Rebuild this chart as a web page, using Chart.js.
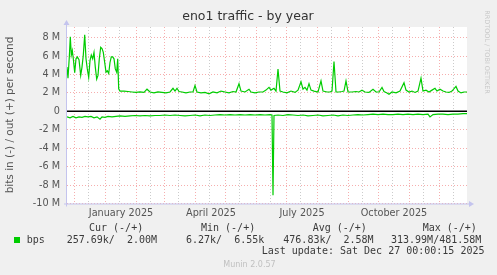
<!DOCTYPE html>
<html>
<head>
<meta charset="utf-8">
<script src="https://cdn.jsdelivr.net/npm/chart.js@4/dist/chart.umd.min.js"></script>
<style>
  html, body { margin: 0; padding: 0; background: #f0f0f0; overflow: hidden; }
  #c { display: block; }
</style>
</head>
<body>
<canvas id="c" width="497" height="275"></canvas>
<script>
// days counted from the left edge of the graph (Nov 24 2024), values in M bit/s
const outDays = [0, 1, 2.3, 3.3, 4.3, 5.3, 6.3, 7.7, 9, 10.3, 12, 13.7, 15, 16.3, 17.7, 19, 20.3, 21.7, 23, 24.3,
  25.7, 27, 28.3, 29.7, 31, 32.3, 33.7, 35, 36.3, 37.7, 39, 40.3, 41.7, 43, 44.3, 45.7, 47, 48.3, 49.7, 50.7,
  51.7, 53, 57, 61, 65, 69, 73, 77, 80, 83, 87, 91, 95, 99, 103, 106, 108, 110, 112, 115,
  119, 123, 126, 128, 130, 134, 138, 142, 146, 150, 154, 158, 162, 166, 169, 172, 174, 178, 182, 184,
  188, 192, 196, 199, 202, 204, 207, 209, 211, 213, 216, 220, 224, 228, 231, 234, 236, 238, 240, 242,
  244, 247, 251, 254, 256, 260, 263, 265, 267, 269, 272, 275, 277, 279, 281, 285, 289, 292, 295, 298,
  302, 306, 309, 312, 315, 317, 320, 322, 325, 329, 333, 337, 339, 342, 345, 348, 351, 354, 356, 359,
  362, 365, 368, 370, 373, 376, 379, 382, 385, 389, 391, 394, 397, 400];
const outVals = [4.8, 3.6, 5.9, 8.1, 6.1, 6.6, 5.7, 4.2, 5.7, 5.9, 5.6, 3.9, 4.8, 6.1, 8.3, 5.7, 4.6, 3.7, 5.5, 6.1,
  5.7, 6.4, 4.8, 3.5, 3.9, 5.7, 6.95, 6.8, 6.4, 5.3, 4.25, 4.4, 4.1, 5.3, 5.9, 5.9, 5.7, 4.6, 4.25, 5.7,
  2.45, 2.2, 2.2, 2.15, 2.1, 2.05, 2.1, 2.05, 2.4, 2.1, 2.0, 2.1, 2.05, 2.0, 2.1, 2.5, 2.2, 2.5, 2.15, 2.1,
  2.0, 2.1, 2.1, 2.8, 2.1, 2.0, 2.05, 1.9, 2.1, 2.0, 2.2, 2.1, 2.0, 2.15, 2.1, 3.0, 2.2, 2.1, 2.4, 2.1,
  2.0, 2.1, 2.1, 2.3, 2.6, 2.3, 2.5, 2.2, 4.6, 2.2, 2.1, 2.0, 2.2, 2.05, 2.3, 3.2, 2.4, 2.6, 2.3, 3.0,
  2.3, 2.2, 2.1, 3.3, 2.2, 2.1, 2.1, 2.2, 5.4, 2.1, 2.1, 2.15, 2.2, 3.3, 2.1, 2.1, 2.15, 2.1, 2.3, 2.1,
  2.05, 2.4, 2.1, 2.1, 2.6, 2.15, 2.0, 1.85, 2.1, 2.0, 2.2, 3.1, 2.3, 2.1, 2.2, 2.05, 2.2, 3.6, 2.2, 2.3,
  2.1, 2.3, 2.5, 2.2, 2.4, 2.2, 2.1, 2.05, 2.2, 2.7, 2.2, 2.0, 2.1, 2.1];

const inDays = [0, 3, 6, 9, 12, 15, 18, 21, 24, 27, 30, 33, 35, 38, 41, 45, 49, 53, 58, 63,
  68, 73, 78, 83, 88, 93, 98, 103, 108, 113, 118, 123, 128, 133, 138, 143, 148, 153, 158, 163,
  168, 173, 178, 183, 188, 193, 198, 203, 205, 206, 207, 211, 216, 221, 226, 231, 236, 241, 246, 251,
  256, 261, 266, 271, 276, 281, 286, 291, 296, 301, 306, 311, 316, 321, 326, 331, 336, 341, 346, 351,
  356, 361, 363, 366, 371, 376, 381, 386, 391, 396, 400];
const inVals = [-0.6, -0.7, -0.55, -0.7, -0.6, -0.65, -0.55, -0.6, -0.55, -0.7, -0.6, -0.85, -0.6, -0.65, -0.55, -0.6, -0.55, -0.5, -0.55, -0.5,
  -0.45, -0.5, -0.45, -0.5, -0.45, -0.45, -0.4, -0.45, -0.4, -0.45, -0.5, -0.45, -0.4, -0.5, -0.4, -0.45, -0.4, -0.35, -0.4, -0.35,
  -0.4, -0.35, -0.4, -0.35, -0.4, -0.35, -0.4, -0.35, -0.4, -9.1, -0.45, -0.4, -0.45, -0.35, -0.4, -0.45, -0.4, -0.5, -0.45, -0.4,
  -0.5, -0.45, -0.4, -0.5, -0.4, -0.45, -0.4, -0.35, -0.4, -0.35, -0.3, -0.35, -0.3, -0.35, -0.35, -0.3, -0.35, -0.3, -0.35, -0.3,
  -0.35, -0.3, -0.6, -0.35, -0.3, -0.3, -0.35, -0.3, -0.3, -0.25, -0.25];

const yTicks = [-10, -9, -8, -7, -6, -5, -4, -3, -2, -1, 0, 1, 2, 3, 4, 5, 6, 7, 8, 9];
const labelMonths = [1, 4, 7, 10];
const labelTexts = ["January 2025", "April 2025", "July 2025", "October 2025"];

const START = Date.UTC(2024, 10, 24);
function dayOf(y, m, d) { return (Date.UTC(y, m - 1, d) - START) / 864e5; }

// month starts (major) and mid months (minor)
const majorDays = [], minorDays = [], dayLabel = {};
for (let i = 0; i < 13; i++) {
    const m = ((11 + i) % 12) + 1;
    const y = 2024 + Math.floor((11 + i) / 12);
    const d = dayOf(y, m, 1);
    majorDays.push(d);
    const li = labelMonths.indexOf(m);
    if (li >= 0 && y === 2025) dayLabel[d] = labelTexts[li];
    const mid = dayOf(y, m, 15);
    if (mid <= 400) minorDays.push(mid);
}
const gridDays = majorDays.concat(minorDays).sort((a, b) => a - b);

const RED = 'rgba(240,120,120,0.6)';
const GREY = 'rgba(175,175,175,0.65)';
const GREEN = '#00cc00';

const rrdLook = {
    id: 'rrdLook',
    beforeDraw(chart) {
        const { ctx, chartArea: a } = chart;
        ctx.save();
        ctx.fillStyle = '#f0f0f0';
        ctx.fillRect(0, 0, chart.width, chart.height);
        ctx.fillStyle = '#ffffff';
        ctx.fillRect(a.left, a.top, a.right - a.left, a.bottom - a.top);
        ctx.restore();
    },
    beforeDatasetsDraw(chart) {
        const { ctx, chartArea: a } = chart;
        const y0 = chart.scales.y.getPixelForValue(0);
        ctx.save();
        ctx.strokeStyle = '#000';
        ctx.lineWidth = 1.5;
        ctx.beginPath();
        ctx.moveTo(a.left, y0);
        ctx.lineTo(a.right, y0);
        ctx.stroke();
        ctx.restore();
    },
    afterDraw(chart) {
        const { ctx, chartArea: a } = chart;
        ctx.save();
        // axes with arrows
        ctx.strokeStyle = '#c4c4ee';
        ctx.fillStyle = '#c4c4ee';
        ctx.lineWidth = 1;
        ctx.beginPath();
        ctx.moveTo(a.left - 0.5, a.bottom + 3);
        ctx.lineTo(a.left - 0.5, a.top - 3);
        ctx.moveTo(a.left - 3, a.bottom + 0.5);
        ctx.lineTo(a.right + 3, a.bottom + 0.5);
        ctx.stroke();
        ctx.beginPath();
        ctx.moveTo(a.left - 3.5, a.top - 2);
        ctx.lineTo(a.left + 2.5, a.top - 2);
        ctx.lineTo(a.left - 0.5, a.top - 7);
        ctx.closePath();
        ctx.fill();
        ctx.beginPath();
        ctx.moveTo(a.right + 2, a.bottom - 2.5);
        ctx.lineTo(a.right + 2, a.bottom + 3.5);
        ctx.lineTo(a.right + 7, a.bottom + 0.5);
        ctx.closePath();
        ctx.fill();

        // title
        ctx.fillStyle = '#333';
        ctx.font = '12.5px "DejaVu Sans"';
        ctx.textAlign = 'center';
        ctx.textBaseline = 'middle';
        ctx.fillText('eno1 traffic - by year', 248, 17);

        // vertical unit label
        ctx.save();
        ctx.translate(10, 115);
        ctx.rotate(-Math.PI / 2);
        ctx.fillStyle = '#555';
        ctx.font = '10.5px "DejaVu Sans"';
        ctx.fillText('bits in (-) / out (+) per second', 0, 0);
        ctx.restore();

        // watermark
        ctx.save();
        ctx.translate(487, 52);
        ctx.rotate(Math.PI / 2);
        ctx.fillStyle = '#c8c8c8';
        ctx.font = '6.5px "DejaVu Sans"';
        ctx.fillText('RRDTOOL / TOBI OETIKER', 0, 0);
        ctx.restore();

        // legend block
        ctx.textAlign = 'left';
        ctx.fillStyle = '#3a3a3a';
        ctx.font = '10px "DejaVu Sans Mono"';
        ctx.fillText('Cur (-/+)', 89, 228);
        ctx.fillText('Min (-/+)', 201, 228);
        ctx.fillText('Avg (-/+)', 312.7, 228);
        ctx.fillText('Max (-/+)', 422.7, 228);
        ctx.fillText('bps', 26.7, 240);
        ctx.fillText('257.69k/  2.00M', 66.7, 240);
        ctx.fillText('6.27k/  6.55k', 186, 240);
        ctx.fillText('476.83k/  2.58M', 283.3, 240);
        ctx.fillText('313.99M/481.58M', 391, 240);
        ctx.fillText('Last update: Sat Dec 27 00:00:15 2025', 261.7, 251.5);
        ctx.fillStyle = GREEN;
        ctx.fillRect(14, 237, 6, 6);

        ctx.fillStyle = '#c0c0c0';
        ctx.textAlign = 'center';
        ctx.font = '8px "DejaVu Sans"';
        ctx.fillText('Munin 2.0.57', 249.5, 265);
        ctx.restore();
    }
};

const tickFont = { family: 'DejaVu Sans', size: 9.7 };

new Chart(document.getElementById('c'), {
    type: 'line',
    data: {
        datasets: [{
            label: 'out',
            data: outDays.map((d, i) => ({ x: d, y: outVals[i] })),
            borderColor: GREEN,
            borderWidth: 1.2,
            pointRadius: 0,
            tension: 0,
            fill: false
        }, {
            label: 'in',
            data: inDays.map((d, i) => ({ x: d, y: inVals[i] })),
            borderColor: GREEN,
            borderWidth: 1.2,
            pointRadius: 0,
            tension: 0,
            fill: false
        }]
    },
    options: {
        responsive: false,
        animation: false,
        devicePixelRatio: 1,
        layout: { padding: { top: 27, right: 30, left: 0, bottom: 0 } },
        plugins: { legend: { display: false }, tooltip: { enabled: false }, title: { display: false } },
        scales: {
            x: {
                type: 'linear',
                min: 0,
                max: 400,
                afterBuildTicks: s => { s.ticks = gridDays.map(v => ({ value: v })); },
                afterFit: s => { s.height = 71.5; },
                ticks: {
                    autoSkip: false,
                    maxRotation: 0,
                    minRotation: 0,
                    labelOffset: 16,
                    padding: 4,
                    color: '#555',
                    font: tickFont,
                    callback: v => dayLabel[v] || ''
                },
                grid: {
                    drawTicks: false,
                    lineWidth: 1,
                    color: c => (c.tick && majorDays.includes(c.tick.value)) ? RED : GREY
                },
                border: { display: false, dash: [1, 2] }
            },
            y: {
                type: 'linear',
                min: -10,
                max: 9.15,
                afterBuildTicks: s => { s.ticks = yTicks.map(v => ({ value: v })); },
                afterFit: s => { s.width = 67; },
                ticks: {
                    padding: 7,
                    color: '#555',
                    font: tickFont,
                    callback: v => v % 2 !== 0 ? '' : (v === 0 ? '0' : v + ' M')
                },
                grid: {
                    drawTicks: false,
                    lineWidth: 1,
                    color: c => (c.tick && c.tick.value % 2 === 0) ? RED : GREY
                },
                border: { display: false, dash: [1, 2] }
            }
        }
    },
    plugins: [rrdLook]
});
</script>
</body>
</html>
